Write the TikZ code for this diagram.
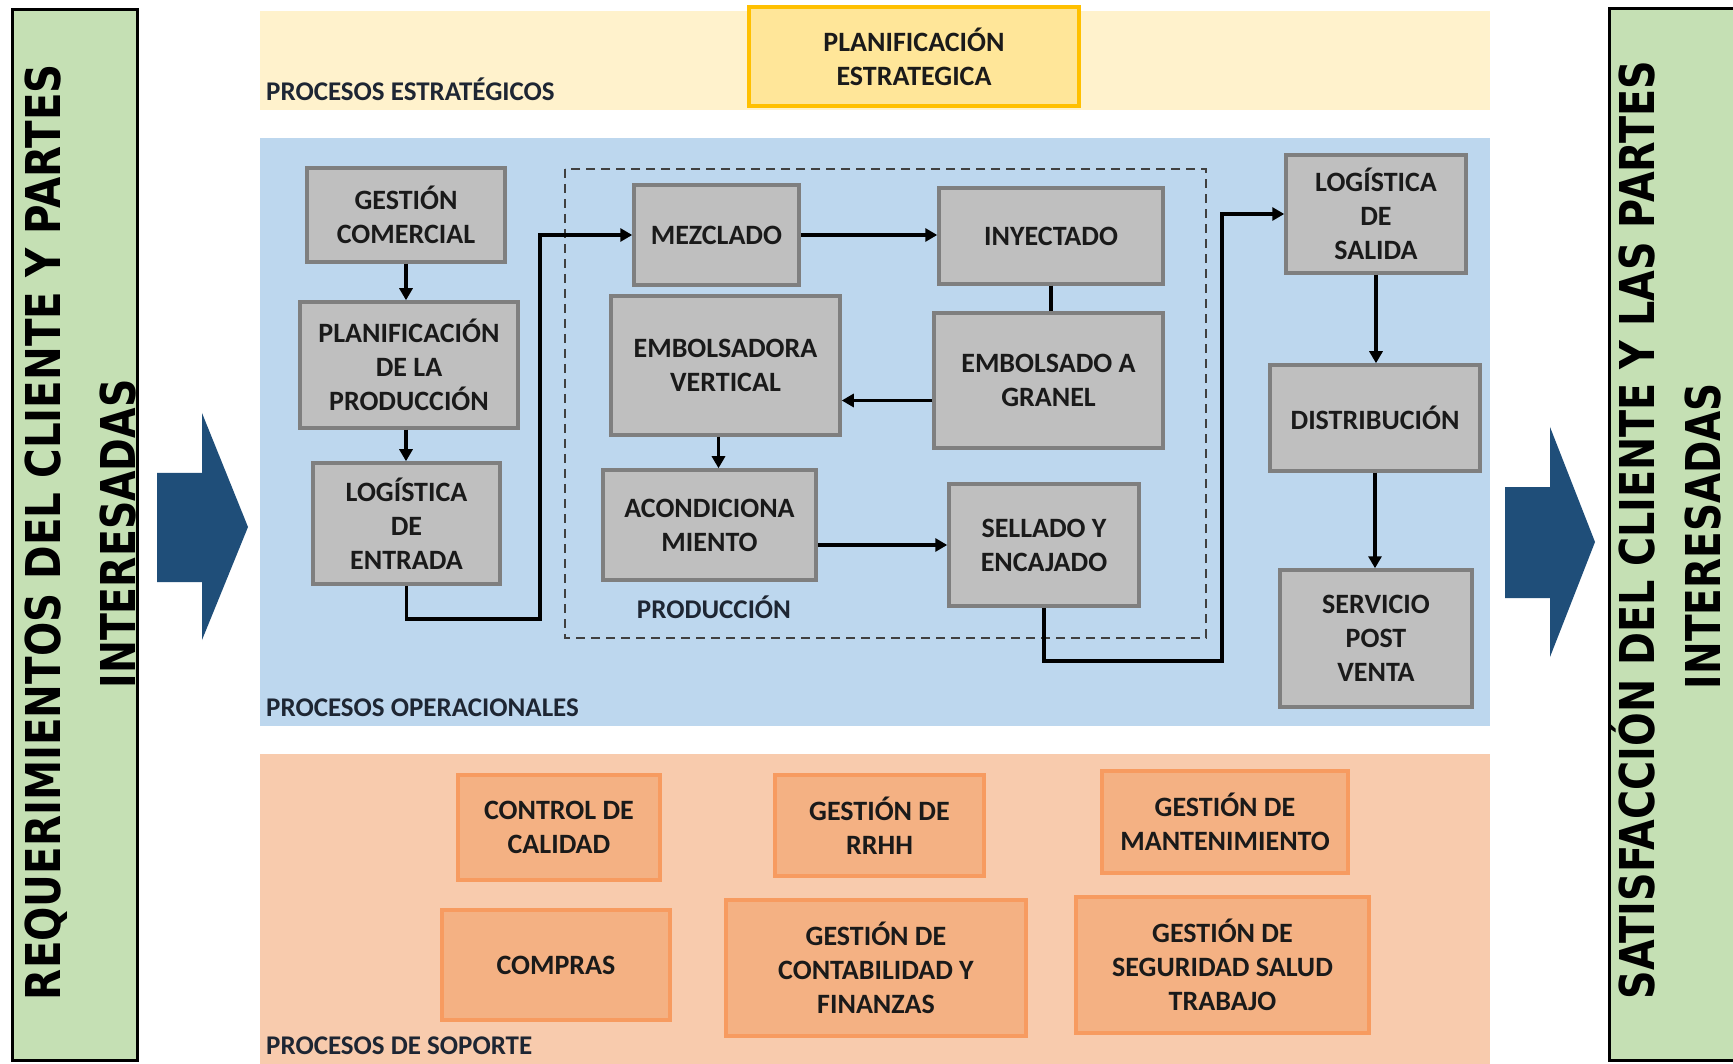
\documentclass[tikz,border=0pt]{standalone}
\usepackage{fontspec}
\usepackage{graphicx}
\setmainfont{Carlito}
\newfontfamily\sidefont{DejaVu Sans}
\usetikzlibrary{arrows.meta}

\definecolor{greenbar}{HTML}{C5E0B4}
\definecolor{stratband}{HTML}{FFF2CC}
\definecolor{operband}{HTML}{BDD7EE}
\definecolor{supband}{HTML}{F8CBAD}
\definecolor{planfill}{HTML}{FFE699}
\definecolor{planedge}{HTML}{FFC000}
\definecolor{grayfill}{HTML}{BFBFBF}
\definecolor{grayedge}{HTML}{7F7F7F}
\definecolor{orfill}{HTML}{F4B183}
\definecolor{oredge}{HTML}{F79B60}
\definecolor{bigarrow}{HTML}{1F4E79}
\definecolor{txtdark}{HTML}{1A1A1A}
\definecolor{lbldark}{HTML}{1E2633}

\newcommand\pmboxfont{\fontsize{28}{34}\selectfont\bfseries}
\newcommand\pmlblfont{\fontsize{27}{32}\selectfont\bfseries}

\begin{document}
\begin{tikzpicture}[x=1pt,y=-1pt,
  gbox/.style={draw=grayedge, fill=grayfill, line width=3.5pt, inner sep=0pt,
    align=center, font=\pmboxfont, text=txtdark},
  obox/.style={draw=oredge, fill=orfill, line width=3.5pt, inner sep=0pt,
    align=center, font=\pmboxfont, text=txtdark},
  pbox/.style={draw=planedge, fill=planfill, line width=3.5pt, inner sep=0pt,
    align=center, font=\pmboxfont, text=txtdark},
  lbl/.style={anchor=base west, inner sep=0pt, font=\pmlblfont, text=lbldark},
  side/.style={rotate=90, anchor=base, inner sep=0pt,
    font=\sidefont\bfseries\fontsize{48}{56}\selectfont, text=black},
  conn/.style={line width=3.5pt, draw=black},
  arr/.style={conn, -{Triangle[length=12pt,width=13pt]}},
  bar/.style={draw=black, fill=greenbar, line width=3pt},
  bigarr/.style={fill=bigarrow, draw=none}
]
\clip (0,0) rectangle (1733,1064);
\fill[white] (0,0) rectangle (1733,1064);

% side bars
\draw[bar] (12,10) rectangle (137,1060);
\draw[bar] (1609,9) rectangle (1760,1060);
\node[side] (reqa) at (60,532) {\resizebox{936pt}{\height}{REQUERIMIENTOS DEL CLIENTE Y PARTES}};
\node[side] (reqb) at (135,534) {\resizebox{309pt}{\height}{INTERESADAS}};
\node[side] (sata) at (1654,530) {\resizebox{939pt}{\height}{SATISFACCIÓN DEL CLIENTE Y LAS PARTES}};
\node[side] (satb) at (1720,536) {\resizebox{306pt}{\height}{INTERESADAS}};

% input and output arrows
\fill[bigarr] (157,473) -- (202,473) -- (202,413) -- (248,527) -- (202,640) -- (202,582) -- (157,582) -- cycle;
\fill[bigarr] (1505,487) -- (1550,487) -- (1550,427) -- (1595,542) -- (1550,657) -- (1550,598) -- (1505,598) -- cycle;

% process bands
\fill[stratband] (260,11) rectangle (1490,110);
\fill[operband] (260,138) rectangle (1490,726);
\fill[supband] (260,754) rectangle (1490,1070);

\node[lbl] (lstrat) at (266,101) {PROCESOS ESTRATÉGICOS};
\node[lbl] (loper) at (266,716) {PROCESOS OPERACIONALES};
\node[lbl] (lsup) at (266,1054) {PROCESOS DE SOPORTE};

% strategic process
\node[pbox, minimum width=330, minimum height=99] (plan) at (914,56.5) {PLANIFICACIÓN\\ESTRATEGICA};

% production area
\draw[line width=2.5pt, draw=black!75, dash pattern=on 9pt off 6pt] (565,169) rectangle (1206,638);
\node[anchor=base, inner sep=0pt, font=\pmlblfont, text=lbldark] (lprod) at (714,618) {PRODUCCIÓN};

% operational processes
\node[gbox, minimum width=198, minimum height=94] (gc) at (406,215) {GESTIÓN\\COMERCIAL};
\node[gbox, minimum width=218, minimum height=126] (pp) at (409,365) {PLANIFICACIÓN\\DE LA\\PRODUCCIÓN};
\node[gbox, minimum width=187, minimum height=121] (lde) at (406.5,523.5) {LOGÍSTICA\\DE\\ENTRADA};
\node[gbox, minimum width=165, minimum height=100] (mez) at (716.5,235) {MEZCLADO};
\node[gbox, minimum width=224, minimum height=96] (iny) at (1051,236) {INYECTADO};
\node[gbox, minimum width=229, minimum height=139] (ev) at (725.5,365.5) {EMBOLSADORA\\VERTICAL};
\node[gbox, minimum width=229, minimum height=135] (eag) at (1048.5,380.5) {EMBOLSADO A\\GRANEL};
\node[gbox, minimum width=213, minimum height=110] (ac) at (709.5,525) {ACONDICIONA\\MIENTO};
\node[gbox, minimum width=190, minimum height=122] (sel) at (1044,545) {SELLADO Y\\ENCAJADO};
\node[gbox, minimum width=180, minimum height=118] (lds) at (1376,214) {LOGÍSTICA\\DE\\SALIDA};
\node[gbox, minimum width=210, minimum height=106] (dist) at (1375,418) {DISTRIBUCIÓN};
\node[gbox, minimum width=192, minimum height=137] (serv) at (1376,638.5) {SERVICIO\\POST\\VENTA};

\coordinate (jin) at (540,619);
\coordinate (jout) at (1222,661);

\draw[arr] (gc.south) -- (gc.south |- pp.north);
\draw[arr] ([xshift=-3pt]pp.south) -- ([xshift=-3pt]pp.south |- lde.north);
\draw[arr] (lde.south) |- (jin) |- (mez.west);
\draw[arr] (mez.east) -- (mez.east -| iny.west);
\draw[conn] (iny.south) -- (iny.south |- eag.north);
\draw[arr] ([yshift=-20pt]eag.west) -- ([yshift=-20pt]eag.west -| ev.east);
\draw[arr] ([xshift=-7pt]ev.south) -- ([xshift=-7pt]ev.south |- ac.north);
\draw[arr] (ac.east |- sel.west) -- (sel.west);
\draw[arr] (sel.south) |- (jout) |- (lds.west);
\draw[arr] (lds.south) -- (lds.south |- dist.north);
\draw[arr] (dist.south) -- (dist.south |- serv.north);

% support processes
\node[obox, minimum width=202, minimum height=105] (cc) at (559,827.5) {CONTROL DE\\CALIDAD};
\node[obox, minimum width=209, minimum height=101] (rrhh) at (879.5,825.5) {GESTIÓN DE\\RRHH};
\node[obox, minimum width=246, minimum height=102] (mant) at (1225,822) {GESTIÓN DE\\MANTENIMIENTO};
\node[obox, minimum width=228, minimum height=110] (comp) at (556,965) {COMPRAS};
\node[obox, minimum width=300, minimum height=136] (cont) at (876,968) {GESTIÓN DE\\CONTABILIDAD Y\\FINANZAS};
\node[obox, minimum width=293, minimum height=136] (seg) at (1222.5,965) {GESTIÓN DE\\SEGURIDAD SALUD\\TRABAJO};
\end{tikzpicture}
\end{document}
